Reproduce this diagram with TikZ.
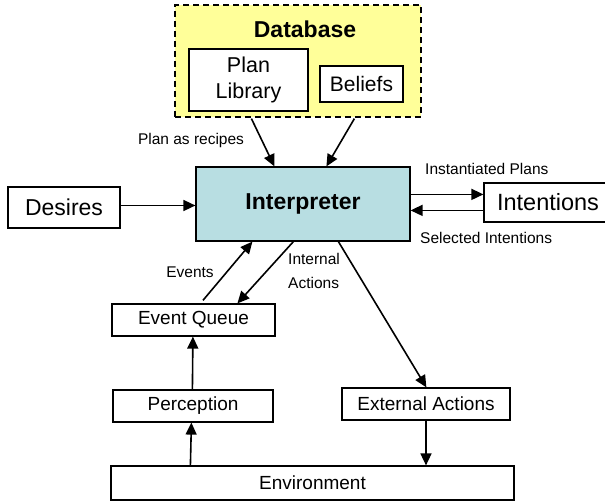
\documentclass[tikz,border=0pt]{standalone}
\usepackage{fontspec}
\setmainfont{Liberation Sans}
\usetikzlibrary{arrows.meta}
\definecolor{dbyellow}{HTML}{FFFF99}
\definecolor{interpblue}{HTML}{B8DEE2}
\begin{document}
\begin{tikzpicture}[x=1pt,y=-1pt,
  box/.style={draw=black, line width=1.2pt, fill=white, rectangle, inner sep=0pt, align=center},
  arr/.style={line width=1.6pt, -{Triangle[length=12pt,width=11pt]}},
  lbl/.style={font=\fontsize{15.5}{24}\selectfont, inner sep=0pt}]
\clip (0,0) rectangle (605,502);
\fill[white] (0,0) rectangle (605,502);

% knowledge store
\node[box, draw=black, dash pattern=on 6pt off 4pt, fill=dbyellow, minimum width=246pt, minimum height=112pt] (db) at (298,61) {};
\node[font=\fontsize{23}{26}\bfseries\selectfont, inner sep=0pt] (dbtitle) at (305,29) {Database};
\node[box, minimum width=119pt, minimum height=62pt, font=\fontsize{21.5}{26}\selectfont] (plan) at (248.5,80) {Plan\\Library};
\node[box, minimum width=83pt, minimum height=36pt, font=\fontsize{21}{24}\selectfont] (beliefs) at (361.5,84) {Beliefs};

% core
\node[box, fill=interpblue, minimum width=214pt, minimum height=74pt, font=\fontsize{23}{26}\bfseries\selectfont] (interp) at (303,204) {Interpreter};
\node[box, minimum width=112pt, minimum height=41pt, font=\fontsize{23}{26}\selectfont] (desires) at (64,207.5) {Desires};
\node[box, minimum width=128pt, minimum height=39pt, font=\fontsize{23.5}{26}\selectfont] (intentions) at (548,202.5) {Intentions};

% lower boxes
\node[box, minimum width=163pt, minimum height=32pt, font=\fontsize{19}{22}\selectfont] (eventq) at (193.5,320) {Event Queue};
\node[box, minimum width=160pt, minimum height=32pt, font=\fontsize{19}{22}\selectfont] (perception) at (193,406) {Perception};
\node[box, minimum width=168pt, minimum height=32pt, font=\fontsize{19}{22}\selectfont] (external) at (426,404) {External Actions};
\node[box, minimum width=403pt, minimum height=34pt, font=\fontsize{19}{22}\selectfont] (env) at (312.5,483) {Environment};

% connectors
\draw[arr] ([xshift=77pt,yshift=-1pt]db.south west) -- ([xshift=79pt]interp.north west);
\draw[arr] ([xshift=180pt,yshift=-1pt]db.south west) -- ([xshift=131pt]interp.north west);
\draw[arr] ([yshift=2pt]desires.east) -- ([yshift=2pt]desires.east -| interp.west);
\coordinate (ipstart) at ([yshift=-28pt]interp.north east);
\draw[arr] (ipstart) -- (ipstart -| intentions.west);
\coordinate (sistart) at ([yshift=-44pt]interp.north east);
\draw[arr] (sistart -| intentions.west) -- (sistart);
\draw[arr, shorten <=4pt] ([xshift=89pt]eventq.north west) -- ([xshift=57pt]interp.south west);
\draw[arr] ([xshift=98pt]interp.south west) -- ([xshift=126pt]eventq.north west);
\draw[arr] ([xshift=143pt]interp.south west) -- ([xshift=85pt]external.north west);
\draw[arr] ([xshift=80pt]perception.north west) -- ([xshift=81.5pt]eventq.south west);
\draw[arr] ([xshift=80pt]env.north west) -- ([xshift=79pt]perception.south west);
\draw[arr] (external.south) -- (external.south |- env.north);

% connector labels
\node[lbl] (lplan) at (191,140) {Plan as recipes};
\node[lbl, anchor=west] (linst) at (425,169) {Instantiated Plans};
\node[lbl, anchor=west] (lsel) at (420,238) {Selected Intentions};
\node[lbl] (levents) at (190,272) {Events};
\node[lbl, anchor=west, align=left] (lint) at (288,271) {Internal\\Actions};
\end{tikzpicture}
\end{document}
